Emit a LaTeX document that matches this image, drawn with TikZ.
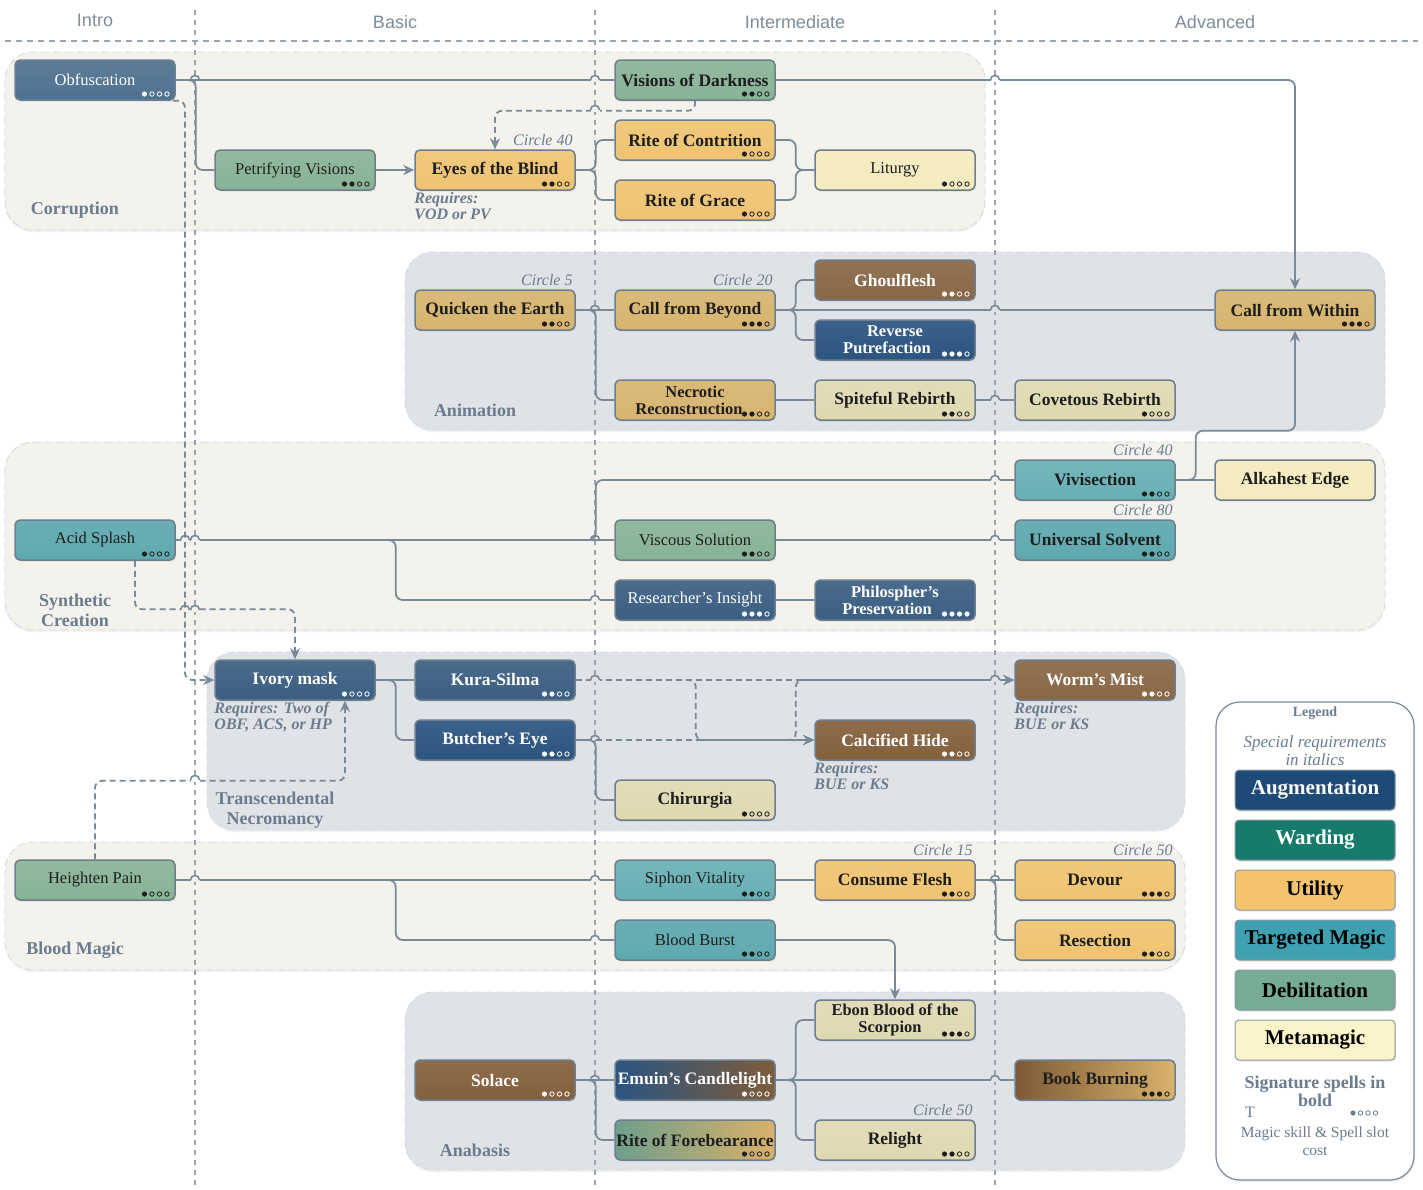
\documentclass[tikz,border=0pt]{standalone}
\usepackage{fontspec}
\setmainfont{Liberation Serif}
\newfontfamily\headfont{Liberation Sans}
\usetikzlibrary{arrows.meta,shadows}

% palette
\definecolor{ink}{HTML}{1E1E1E}
\definecolor{border}{HTML}{6E7E8C}
\definecolor{wire}{HTML}{7A8997}
\definecolor{labelgray}{HTML}{6B7C8E}
\definecolor{headgray}{HTML}{7F8C99}
\definecolor{cream}{HTML}{F3F2EC}
\definecolor{mist}{HTML}{DFE2E6}
\definecolor{gridline}{HTML}{9AA4AE}
\definecolor{paneledge}{HTML}{D5DAE0}
\definecolor{legendedge}{HTML}{7C8A99}
\definecolor{cObf}{HTML}{4F7190}
\definecolor{cBlue}{HTML}{3B5E82}
\definecolor{cDeepBlue}{HTML}{2B5480}
\definecolor{cGreen}{HTML}{88B396}
\definecolor{cUtil}{HTML}{EFC472}
\definecolor{cTan}{HTML}{D7B46F}
\definecolor{cMeta}{HTML}{F4EBBE}
\definecolor{cKhaki}{HTML}{DFD9B2}
\definecolor{cBrown}{HTML}{886746}
\definecolor{cBrownDeep}{HTML}{84603C}
\definecolor{cTeal}{HTML}{5DA9AF}
\definecolor{cTealLight}{HTML}{68B0B5}
\definecolor{cEmuinL}{HTML}{2A5482}
\definecolor{cEmuinR}{HTML}{7E5C3A}
\definecolor{cBookL}{HTML}{7D5A36}
\definecolor{cBookR}{HTML}{D9B26C}
\definecolor{cRofL}{HTML}{6E9F8C}
\definecolor{cRofR}{HTML}{D9B06A}
\definecolor{kAug}{HTML}{1D4A77}
\definecolor{kWard}{HTML}{177A6B}
\definecolor{kUtil}{HTML}{F3C46D}
\definecolor{kTarg}{HTML}{3FA0B1}
\definecolor{kDeb}{HTML}{75AC93}
\definecolor{kMeta}{HTML}{FBF3C9}

\tikzset{
  spell/.style={rectangle, rounded corners=5pt, draw=border, line width=1.5pt,
    minimum width=160pt, minimum height=40pt, inner sep=1pt, align=center, text=ink,
    drop shadow={opacity=0.18, shadow xshift=1pt, shadow yshift=-1.5pt}},
  reg/.style={font=\fontsize{16.5}{18}\selectfont},
  sig/.style={font=\fontsize{17.5}{19}\selectfont\bfseries},
  sigtwo/.style={font=\fontsize{16.5}{17}\selectfont\bfseries},
  paint/.style={top color=#1!92!white, bottom color=#1},
  dark/.style={text=white},
  conn/.style={draw=wire, line width=1.8pt, rounded corners=7pt},
  dashconn/.style={conn, dash pattern=on 6pt off 4pt},
  arrowend/.style={-{Stealth[length=11pt,width=10pt]}},
  circ/.style={font=\fontsize{16}{18}\selectfont\itshape, text=labelgray, inner sep=1pt, anchor=south east},
  req/.style={font=\fontsize{16}{16}\selectfont\bfseries\itshape, text=labelgray, inner sep=0pt, anchor=north west, align=left},
  grouplabel/.style={font=\fontsize{18}{20}\selectfont\bfseries, text=labelgray, align=center},
  colhead/.style={font=\headfont\fontsize{18}{20}\selectfont, text=headgray},
  panel/.style={fill=#1, draw=paneledge, dash pattern=on 8pt off 4pt, line width=0.8pt,
    rounded corners=28pt, drop shadow={opacity=0.10, shadow xshift=0pt, shadow yshift=-2pt}},
  legendkey/.style={rectangle, rounded corners=4pt, draw=border!80, line width=1pt,
    minimum width=160pt, minimum height=40pt, font=\fontsize{21}{22}\selectfont\bfseries,
    drop shadow={opacity=0.2, shadow xshift=1pt, shadow yshift=-1.5pt}},
  dotdark/.style={color=ink},
  dotlight/.style={color=white},
  dotgray/.style={color=labelgray},
}

% four cost pips starting at x=#2, y=#3, #4 of them filled
\newcommand\costdots[4][dotdark]{%
  \foreach \k in {1,2,3,4}{%
    \ifnum\k>#4\relax
      \draw[#1, line width=0.8pt] ({#2+7.5*(\k-1)},{#3}) circle (2.2);
    \else
      \fill[#1] ({#2+7.5*(\k-1)},{#3}) circle (2.6);
    \fi}}

% spell box: [pip style]{name}{x}{y}{look}{label}{filled pips}
\newcommand\spell[7][dotdark]{%
  \node[spell,#5] (#2) at (#3,#4) {#6};
  \costdots[#1]{#3+49.5}{#4+14}{#7}}

% line jump over a crossing line; optional colour blanks the line underneath
\newcommand\hop[3][]{%
  \if\relax\detokenize{#1}\relax\else
    \draw[#1, line width=4pt] ({#2-4.5},#3) -- ({#2+4.5},#3);
  \fi
  \draw[wire, line width=1.6pt] ({#2-4.5},#3) .. controls ({#2-4.5},{#3-6}) and ({#2+4.5},{#3-6}) .. ({#2+4.5},#3);}

\begin{document}
\begin{tikzpicture}[x=1pt, y=-1pt]
\useasboundingbox (0,0) rectangle (1423,1189);
\fill[white] (0,0) rectangle (1423,1189);

% school panels
\path[panel=cream] (5,52) rectangle (985,230);
\path[panel=mist] (405,252) rectangle (1385,430);
\path[panel=cream] (5,442) rectangle (1385,630);
\path[panel=mist] (207,652) rectangle (1185,830);
\path[panel=cream] (5,842) rectangle (1185,970);
\path[panel=mist] (405,992) rectangle (1185,1170);

% tier grid
\draw[gridline, line width=1.5pt, dash pattern=on 6pt off 5pt] (5,41) -- (1418,41);
\foreach \cx in {195,595,995}
  \draw[gridline, line width=1.2pt, dash pattern=on 5pt off 5pt] (\cx,10) -- (\cx,1185);

\node[colhead] (h-intro) at (95,20) {Intro};
\node[colhead] (h-basic) at (395,22) {Basic};
\node[colhead] (h-inter) at (795,22) {Intermediate};
\node[colhead] (h-adv) at (1215,22) {Advanced};

% Corruption
\spell[dotlight]{obf}{95}{80}{reg,dark,paint=cObf}{Obfuscation}{1}
\spell{pv}{295}{170}{reg,paint=cGreen}{Petrifying Visions}{2}
\spell{eotb}{495}{170}{sig,paint=cUtil}{Eyes of the Blind}{2}
\spell{vod}{695}{80}{sig,paint=cGreen}{Visions of Darkness}{2}
\spell{roc}{695}{140}{sig,paint=cUtil}{Rite of Contrition}{1}
\spell{rog}{695}{200}{sig,paint=cUtil}{Rite of Grace}{1}
\spell{lit}{895}{170}{reg,paint=cMeta}{Liturgy}{1}

% Animation
\spell{qte}{495}{310}{sig,paint=cTan}{Quicken the Earth}{2}
\spell{cfb}{695}{310}{sig,paint=cTan}{Call from Beyond}{3}
\spell[dotlight]{ghoul}{895}{280}{sig,dark,paint=cBrown}{Ghoulflesh}{2}
\spell[dotlight]{rp}{895}{340}{sigtwo,dark,paint=cDeepBlue}{Reverse\\Putrefaction\hspace*{16pt}}{3}
\spell{nr}{695}{400}{sigtwo,paint=cTan}{Necrotic\\Reconstruction\hspace*{12pt}}{2}
\spell{sr}{895}{400}{sig,paint=cKhaki}{Spiteful Rebirth}{2}
\spell{cr}{1095}{400}{sig,paint=cKhaki}{Covetous Rebirth}{1}
\spell{cfw}{1295}{310}{sig,paint=cTan}{Call from Within}{3}

% Synthetic Creation
\spell{acid}{95}{540}{reg,paint=cTeal}{Acid Splash}{1}
\spell{viv}{1095}{480}{sig,paint=cTealLight}{Vivisection}{2}
\node[spell,sig,paint=cMeta] (alk) at (1295,480) {Alkahest Edge};
\spell{visc}{695}{540}{reg,paint=cGreen}{Viscous Solution}{2}
\spell{us}{1095}{540}{sig,paint=cTeal}{Universal Solvent}{2}
\spell[dotlight]{ri}{695}{600}{reg,dark,paint=cBlue}{Researcher's Insight}{3}
\spell[dotlight]{pp}{895}{600}{sigtwo,dark,paint=cBlue}{Philospher's\\Preservation\hspace*{16pt}}{4}

% Transcendental Necromancy
\spell[dotlight]{ivory}{295}{680}{sig,dark,paint=cBlue}{Ivory mask}{1}
\spell[dotlight]{kura}{495}{680}{sig,dark,paint=cBlue}{Kura-Silma}{2}
\spell[dotlight]{bue}{495}{740}{sig,dark,paint=cDeepBlue}{Butcher's Eye}{2}
\spell[dotlight]{worm}{1095}{680}{sig,dark,paint=cBrown}{Worm's Mist}{2}
\spell[dotlight]{calc}{895}{740}{sig,dark,paint=cBrownDeep}{Calcified Hide}{2}
\spell{chir}{695}{800}{sig,paint=cKhaki}{Chirurgia}{1}

% Blood Magic
\spell{hp}{95}{880}{reg,paint=cGreen}{Heighten Pain}{1}
\spell{sv}{695}{880}{reg,paint=cTealLight}{Siphon Vitality}{2}
\spell{cf}{895}{880}{sig,paint=cUtil}{Consume Flesh}{2}
\spell{dev}{1095}{880}{sig,paint=cUtil}{Devour}{3}
\spell{res}{1095}{940}{sig,paint=cUtil}{Resection}{2}
\spell{bb}{695}{940}{reg,paint=cTeal}{Blood Burst}{2}

% Anabasis
\spell{ebon}{895}{1020}{sigtwo,paint=cKhaki}{Ebon Blood of the\\Scorpion\hspace*{10pt}}{3}
\spell[dotlight]{sol}{495}{1080}{sig,dark,paint=cBrownDeep}{Solace}{1}
\spell[dotlight]{emuin}{695}{1080}{sig,dark,left color=cEmuinL,right color=cEmuinR}{Emuin's Candlelight}{1}
\spell{book}{1095}{1080}{sig,left color=cBookL,right color=cBookR}{Book Burning}{3}
\spell{rof}{695}{1140}{sig,left color=cRofL,right color=cRofR}{Rite of Forebearance}{1}
\spell{reli}{895}{1140}{sig,paint=cKhaki}{Relight}{2}

% prerequisite links: Corruption
\draw[conn] (obf.east) -- (vod.west);
\draw[conn] (obf.east) -- ++(20,0) |- (pv.west);
\draw[conn,arrowend] (pv.east) -- (eotb.west);
\draw[conn] (eotb.east) -- ++(20,0) |- (roc.west);
\draw[conn] (eotb.east) -- ++(20,0) |- (rog.west);
\draw[conn] (roc.east) -- ++(20,0) |- (lit.west);
\draw[conn] (rog.east) -- ++(20,0) |- (lit.west);
\draw[dashconn,arrowend] (vod.south) -- ++(0,10) -| (eotb.north);
\draw[conn,arrowend] (vod.east) -| (cfw.north);
\draw[dashconn,arrowend] ([xshift=-3pt]obf.south east) -| (185,680) -- (ivory.west);

% Animation
\draw[conn] (qte.east) -- (cfb.west);
\draw[conn] (qte.east) -- ++(20,0) |- (nr.west);
\draw[conn] (cfb.east) -- ++(20,0) |- (ghoul.west);
\draw[conn] (cfb.east) -- ++(20,0) |- (rp.west);
\draw[conn] (cfb.east) -- (cfw.west);
\draw[conn] (nr.east) -- (sr.west);
\draw[conn] (sr.east) -- (cr.west);

% Synthetic Creation
\draw[conn] (acid.east) -- (visc.west);
\draw[conn] (acid.east) -- ++(420,0) |- (viv.west);
\draw[conn] (acid.east) -- ++(220,0) |- (ri.west);
\draw[conn] (visc.east) -- (us.west);
\draw[conn] (ri.east) -- (pp.west);
\draw[conn] (viv.east) -- (alk.west);
\draw[conn,arrowend] (viv.east) -- ++(20,0) |- ([yshift=-100pt]cfw.south) -- (cfw.south);
\draw[dashconn,arrowend] ([xshift=40pt]acid.south) |- ([yshift=50pt]ivory.north) -- (ivory.north);

% Transcendental Necromancy
\draw[conn] (ivory.east) -- (kura.west);
\draw[conn] (ivory.east) -- ++(20,0) |- (bue.west);
\draw[dashconn,arrowend] (kura.east) -- (worm.west);
\draw[dashconn,arrowend] (kura.east) -- ++(120,0) |- (calc.west);
\draw[dashconn,arrowend] (bue.east) -- (calc.west);
\draw[dashconn,arrowend] (bue.east) -- ++(220,0) |- (worm.west);
\draw[conn] (bue.east) -- ++(20,0) |- (chir.west);
\draw[dashconn,arrowend] (hp.north) |- ([xshift=50pt,yshift=-80pt]ivory.south) -- ([xshift=50pt]ivory.south);

% Blood Magic
\draw[conn] (hp.east) -- (sv.west);
\draw[conn] (hp.east) -- ++(220,0) |- (bb.west);
\draw[conn] (sv.east) -- (cf.west);
\draw[conn] (cf.east) -- (dev.west);
\draw[conn] (cf.east) -- ++(20,0) |- (res.west);
\draw[conn,arrowend] (bb.east) -| (ebon.north);

% Anabasis
\draw[conn] (sol.east) -- (emuin.west);
\draw[conn] (sol.east) -- ++(20,0) |- (rof.west);
\draw[conn] (emuin.east) -- ++(20,0) |- (ebon.west);
\draw[conn] (emuin.east) -- (book.west);
\draw[conn] (emuin.east) -- ++(20,0) |- (reli.west);

% line jumps
\hop{195}{80} \hop[cream]{595}{80} \hop[white]{995}{80}
\hop[cream]{595}{110}
\hop{595}{310} \hop[mist]{995}{310} \hop[mist]{995}{400}
\hop[cream]{995}{480}
\hop[cream]{185}{540} \hop[cream]{195}{540} \hop{595}{540} \hop[cream]{995}{540}
\hop[cream]{595}{600}
\hop[cream]{185}{610} \hop[cream]{195}{610}
\hop[mist]{595}{680} \hop[mist]{995}{680}
\hop{595}{740}
\hop[white]{195}{780}
\hop[cream]{195}{880} \hop[cream]{595}{880} \hop{995}{880}
\hop[cream]{595}{940}
\hop{595}{1080} \hop[mist]{995}{1080}

% circle and requirement notes
\node[circ] (n-eotb) at ([xshift=-2pt,yshift=2pt]eotb.north east) {Circle 40};
\node[req] (q-eotb) at ([yshift=-1pt]eotb.south west) {Requires:\\VOD or PV};
\node[circ] (n-qte) at ([xshift=-2pt,yshift=2pt]qte.north east) {Circle 5};
\node[circ] (n-cfb) at ([xshift=-2pt,yshift=2pt]cfb.north east) {Circle 20};
\node[circ] (n-viv) at ([xshift=-2pt,yshift=2pt]viv.north east) {Circle 40};
\node[circ] (n-us) at ([xshift=-2pt,yshift=2pt]us.north east) {Circle 80};
\node[req] (q-ivory) at ([yshift=-1pt]ivory.south west) {Requires: Two of\\OBF, ACS, or HP};
\node[req] (q-calc) at ([yshift=-1pt]calc.south west) {Requires:\\BUE or KS};
\node[req] (q-worm) at ([yshift=-1pt]worm.south west) {Requires:\\BUE or KS};
\node[circ] (n-cf) at ([xshift=-2pt,yshift=2pt]cf.north east) {Circle 15};
\node[circ] (n-dev) at ([xshift=-2pt,yshift=2pt]dev.north east) {Circle 50};
\node[circ] (n-reli) at ([xshift=-2pt,yshift=2pt]reli.north east) {Circle 50};

% school names
\node[grouplabel] (g-corr) at (75,210) {Corruption};
\node[grouplabel] (g-anim) at (475,410) {Animation};
\node[grouplabel] (g-synth) at (75,610) {Synthetic\\Creation};
\node[grouplabel] (g-trans) at (275,810) {Transcendental\\Necromancy};
\node[grouplabel] (g-blood) at (75,950) {Blood Magic};
\node[grouplabel] (g-ana) at (475,1150) {Anabasis};

% legend
\node[draw=legendedge, line width=1.2pt, fill=white, rounded corners=24pt,
  minimum width=198pt, minimum height=478pt,
  drop shadow={opacity=0.12, shadow xshift=1pt, shadow yshift=-2pt}] (legend) at (1315,941) {};
\node[font=\fontsize{14}{16}\selectfont\bfseries, text=labelgray] (lg-title) at (1315,713) {Legend};
\node[font=\fontsize{17}{18}\selectfont\itshape, text=labelgray, align=center] (lg-req) at (1315,751) {Special requirements\\in italics};
\node[legendkey, fill=kAug, text=white] (k-aug) at (1315,790) {Augmentation};
\node[legendkey, fill=kWard, text=white] (k-ward) at (1315,840) {Warding};
\node[legendkey, fill=kUtil, text=black] (k-util) at (1315,890) {Utility};
\node[legendkey, fill=kTarg, text=black] (k-targ) at (1315,940) {Targeted Magic};
\node[legendkey, fill=kDeb, text=black] (k-deb) at (1315,990) {Debilitation};
\node[legendkey, fill=kMeta, text=black] (k-meta) at (1315,1040) {Metamagic};
\node[font=\fontsize{18}{18}\selectfont\bfseries, text=labelgray, align=center] (lg-sig) at (1315,1091) {Signature spells in\\bold};
\node[font=\fontsize{16}{16}\selectfont, text=labelgray] (lg-t) at (1250,1112) {T};
\costdots[dotgray]{1353}{1113}{1}
\node[font=\fontsize{15.5}{18}\selectfont, text=labelgray, align=center] (lg-cost) at (1315,1141) {Magic skill \& Spell slot\\cost};
\end{tikzpicture}
\end{document}
